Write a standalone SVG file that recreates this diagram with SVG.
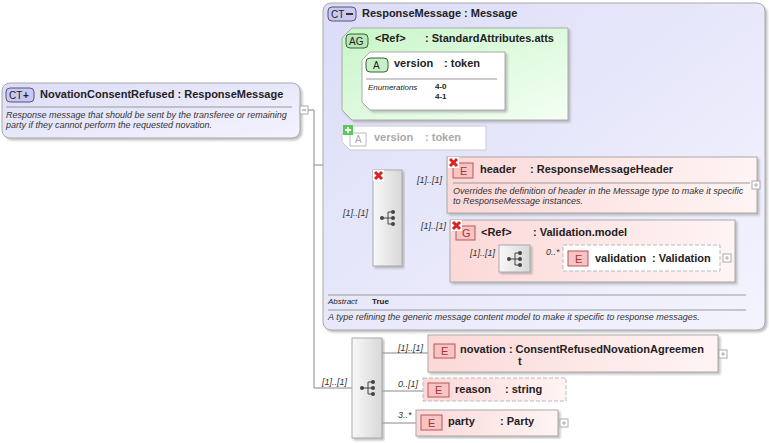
<svg xmlns="http://www.w3.org/2000/svg" width="769" height="443" viewBox="0 0 769 443">
<defs>
<linearGradient id="ct" x1="0" y1="0" x2="1" y2="1"><stop offset="0" stop-color="#dcdcf8"/><stop offset="1" stop-color="#f4f4fe"/></linearGradient>
<linearGradient id="el" x1="0" y1="0" x2="1" y2="0"><stop offset="0" stop-color="#fcd8d8"/><stop offset="1" stop-color="#fff4f4"/></linearGradient>
<linearGradient id="ag" x1="0" y1="0" x2="1" y2="1"><stop offset="0" stop-color="#c8f5c8"/><stop offset="1" stop-color="#f4fff4"/></linearGradient>
<linearGradient id="sq" x1="0" y1="0" x2="1" y2="0"><stop offset="0" stop-color="#f8f8f8"/><stop offset="1" stop-color="#d8d8d8"/></linearGradient>
<filter id="sh"><feDropShadow dx="2" dy="2" stdDeviation="1" flood-color="#999" flood-opacity="0.6"/></filter>
<g id="seqicon"><circle cx="-6" cy="0" r="2" fill="#444"/><path d="M-6 0H0M0-6V6M0-6H5M0 0H5M0 6H5" stroke="#444" fill="none"/><circle cx="5" cy="-6" r="2" fill="#444"/><circle cx="5" cy="0" r="2" fill="#444"/><circle cx="5" cy="6" r="2" fill="#444"/></g>
<g id="xicon"><rect x="0" y="0" width="11" height="11" fill="#fff"/><path d="M2 2L9 9M9 2L2 9" stroke="#d22" stroke-width="3"/></g>
</defs>
<style>
text{font-family:"Liberation Sans",Arial,sans-serif;font-size:11px;fill:#222}
.b{font-weight:bold}
.i{font-style:italic;font-size:9px;fill:#333}
.s{font-size:8px}
.c{font-size:8px;font-style:italic}
.ln{stroke:#888;fill:none}
.sep{stroke:#999}
.ei{fill:#f6c4c4;stroke:#b55}
.it{font-size:11px;fill:#a33}
.pl{fill:#fff;stroke:#aaa}
</style>
<g id="connectors" class="ln">
<path d="M308 110H314V388H352"/>
<path d="M314 165H333"/>
<path d="M333 73V219H373M333 73H342M333 137H342"/>
<path d="M402 187H447M402 251H450M450 259H499M530 259H563"/>
<path d="M382 353H428M382 391H423M382 423H416"/>
</g>
<g id="NovationConsentRefused">
<rect x="2" y="83" width="298" height="55" rx="8" fill="url(#ct)" stroke="#aaa" filter="url(#sh)"/>
<rect x="6" y="88" width="28" height="14" rx="4" fill="#c8c8f0" stroke="#557"/><text x="9" y="99" style="font-size:10px">CT</text><text x="23" y="99" class="b" style="font-size:10px">+</text>
<text x="40" y="98" class="b">NovationConsentRefused : ResponseMessage</text>
<line x1="6" y1="107" x2="292" y2="107" class="sep"/>
<text x="6" y="118" class="i">Response message that should be sent by the transferee or remaining</text>
<text x="6" y="128" class="i">party if they cannot perform the requested novation.</text>
<rect x="300" y="106" width="8" height="8" class="pl"/><path d="M302 110H306" stroke="#888"/>
</g>
<g id="ResponseMessage">
<rect x="323" y="3" width="442" height="327" rx="8" fill="url(#ct)" stroke="#aaa" filter="url(#sh)"/>
<rect x="328" y="7" width="28" height="14" rx="4" fill="#c8c8f0" stroke="#557"/><text x="331" y="18" style="font-size:10px">CT</text><path d="M346 14H353" stroke="#333" stroke-width="2"/>
<text x="362" y="17" class="b">ResponseMessage : Message</text>
<line x1="328" y1="295" x2="746" y2="295" class="sep"/>
<text x="328" y="304" class="c">Abstract</text><text x="372" y="304" class="s b">True</text>
<line x1="328" y1="310" x2="746" y2="310" class="sep"/>
<text x="328" y="320" class="i">A type refining the generic message content model to make it specific to response messages.</text>
</g>
<g id="StandardAttributes">
<path d="M352 28H568V120H352L342 110V38Z" fill="url(#ag)" stroke="#aaa" filter="url(#sh)"/>
<rect x="346" y="34" width="22" height="14" rx="4" fill="#b8e8b8" stroke="#363"/><text x="349" y="45" style="font-size:10px">AG</text>
<text x="375" y="42" class="b">&lt;Ref&gt;</text><text x="425" y="42" class="b">: StandardAttributes.atts</text>
</g>
<g id="versionAttr">
<path d="M370 52H505V110H370L362 102V60Z" fill="#fff" stroke="#aaa" filter="url(#sh)"/>
<rect x="366" y="58" width="22" height="14" rx="4" fill="#c8f0c8" stroke="#363"/><text x="373" y="69" style="font-size:10px">A</text>
<text x="394" y="67" class="b">version</text><text x="444" y="67" class="b">: token</text>
<line x1="366" y1="79" x2="497" y2="79" class="sep"/>
<text x="368" y="90" class="c">Enumerations</text><text x="435" y="89" class="s b">4-0</text><text x="435" y="99" class="s b">4-1</text>
</g>
<g id="versionGrey">
<path d="M350 126H486V150H350L342 142V134Z" fill="#fff" stroke="#ccc"/>
<rect x="350" y="133" width="16" height="13" fill="#fff" stroke="#bbb"/><text x="355" y="143" style="font-size:10px;fill:#aaa">A</text>
<rect x="343" y="125" width="10" height="10" fill="#5c5"/><path d="M348 127V133M345 130H351" stroke="#fff" stroke-width="2"/>
<text x="374" y="141" class="b" style="fill:#aaa">version</text><text x="425" y="141" class="b" style="fill:#aaa">: token</text>
</g>
<g id="seq1">
<rect x="373" y="170" width="29" height="96" fill="url(#sq)" stroke="#aaa" filter="url(#sh)"/>
<use href="#xicon" x="373" y="170"/>
<use href="#seqicon" x="388" y="218"/>
<text x="343" y="216" class="i">[1]..[1]</text>
</g>
<g id="header">
<rect x="447" y="157" width="310" height="56" fill="url(#el)" stroke="#aaa" filter="url(#sh)"/>
<rect x="453" y="163" width="20" height="15" class="ei"/><text x="460" y="175" class="it">E</text>
<use href="#xicon" x="448" y="157"/>
<text x="480" y="173" class="b">header</text><text x="530" y="173" class="b">: ResponseMessageHeader</text>
<line x1="453" y1="183" x2="750" y2="183" class="sep"/>
<text x="453" y="194" class="i">Overrides the definition of header in the Message type to make it specific</text>
<text x="453" y="204" class="i">to ResponseMessage instances.</text>
<rect x="752" y="181" width="8" height="8" class="pl"/><path d="M754 185H758M756 183V187" stroke="#aaa"/>
<text x="417" y="183" class="i">[1]..[1]</text>
</g>
<g id="ValidationModel">
<rect x="450" y="220" width="285" height="62" fill="url(#el)" stroke="#aaa" filter="url(#sh)"/>
<rect x="456" y="226" width="19" height="14" class="ei"/><text x="462" y="237" class="it">G</text>
<use href="#xicon" x="451" y="220"/>
<text x="481" y="236" class="b">&lt;Ref&gt;</text><text x="533" y="236" class="b">: Validation.model</text>
<text x="421" y="229" class="i">[1]..[1]</text>
<text x="470" y="256" class="i">[1]..[1]</text>
<rect x="499" y="245" width="31" height="27" fill="url(#sq)" stroke="#aaa" filter="url(#sh)"/>
<use href="#seqicon" x="515" y="259"/>
</g>
<g id="validation">
<rect x="563" y="245" width="157" height="26" fill="#fff" stroke="#bbb" stroke-dasharray="4,2"/>
<rect x="568" y="251" width="20" height="15" class="ei"/><text x="575" y="263" class="it">E</text>
<text x="595" y="262" class="b">validation</text><text x="652" y="262" class="b">: Validation</text>
<rect x="723" y="254" width="8" height="8" class="pl"/><path d="M725 258H729M727 256V260" stroke="#aaa"/>
<text x="546" y="255" class="i">0..*</text>
</g>
<g id="seq2">
<rect x="352" y="338" width="30" height="100" fill="url(#sq)" stroke="#aaa" filter="url(#sh)"/>
<use href="#seqicon" x="368" y="388"/>
<text x="322" y="385" class="i">[1]..[1]</text>
</g>
<g id="novation">
<rect x="428" y="335" width="290" height="37" fill="url(#el)" stroke="#aaa" filter="url(#sh)"/>
<rect x="434" y="344" width="21" height="14" class="ei"/><text x="441" y="355" class="it">E</text>
<text x="460" y="353" class="b">novation : ConsentRefusedNovationAgreemen</text>
<text x="518" y="365" class="b">t</text>
<rect x="719" y="350" width="8" height="8" class="pl"/><path d="M721 354H725M723 352V356" stroke="#aaa"/>
<text x="398" y="351" class="i">[1]..[1]</text>
</g>
<g id="reason">
<rect x="423" y="378" width="143" height="23" fill="url(#el)" stroke="#bbb" stroke-dasharray="4,2"/>
<rect x="428" y="383" width="21" height="14" class="ei"/><text x="435" y="394" class="it">E</text>
<text x="455" y="393" class="b">reason</text><text x="505" y="393" class="b">: string</text>
<text x="398" y="387" class="i">0..[1]</text>
</g>
<g id="party">
<rect x="416" y="410" width="142" height="26" fill="url(#el)" stroke="#aaa" filter="url(#sh)"/>
<rect x="421" y="415" width="21" height="15" class="ei"/><text x="428" y="427" class="it">E</text>
<text x="448" y="425" class="b">party</text><text x="500" y="425" class="b">: Party</text>
<rect x="560" y="419" width="8" height="8" class="pl"/><path d="M562 423H566M564 421V425" stroke="#aaa"/>
<text x="398" y="418" class="i">3..*</text>
</g>
</svg>
